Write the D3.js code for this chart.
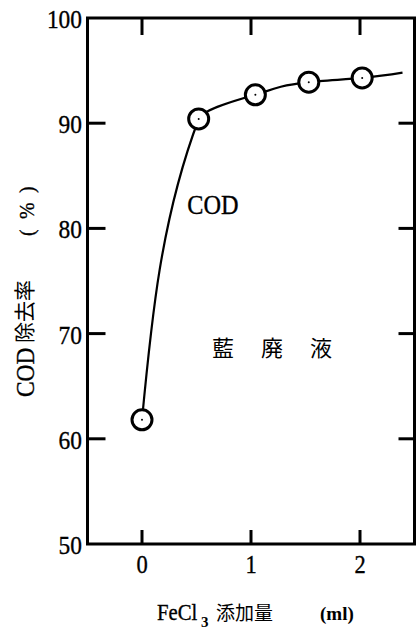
<!DOCTYPE html>
<html>
<head>
<meta charset="utf-8">
<script src="https://cdn.jsdelivr.net/npm/d3@7"></script>
<style>
  html, body { margin: 0; padding: 0; background: #fff; }
  svg { display: block; }
</style>
</head>
<body>
<svg id="chart" width="416" height="629"></svg>
<script>
// FeCl3 dose (ml) and COD removal (%) for the indigo waste liquor
const feCl3Dose = [0, 0.52, 1.04, 1.53, 2.02];
const codRemoval = [61.8, 90.4, 92.7, 93.9, 94.3];
// the fitted curve runs on past the last measurement
const curveTailDose = [2.39];
const curveTailRemoval = [94.8];

const xTicks = [0, 1, 2];
const yTicks = [50, 60, 70, 80, 90, 100];
const yInnerTicks = [60, 70, 80, 90];

const SERIF = "'Liberation Serif', 'DejaVu Serif', serif";
const CJK = "'Noto Sans CJK JP', 'Noto Sans CJK SC', sans-serif";

const svg = d3.select("#chart");

const x = d3.scaleLinear().domain([-0.5, 2.5]).range([87.5, 414.5]);
const y = d3.scaleLinear().domain([50, 100]).range([544, 18]);

const L = x(-0.5), R = x(2.5), T = y(100), B = y(50);

// plot frame
svg.append("path")
  .attr("d", `M${R + 2},${T} H${L} V${B} H${R} V${T}`)
  .attr("fill", "none").attr("stroke", "#000").attr("stroke-width", 3);

// inward ticks on all four sides
const tickG = svg.append("g").attr("stroke", "#000").attr("stroke-width", 3);
xTicks.forEach(v => {
  tickG.append("line").attr("x1", x(v)).attr("x2", x(v)).attr("y1", T).attr("y2", T + 17);
  tickG.append("line").attr("x1", x(v)).attr("x2", x(v)).attr("y1", B).attr("y2", B - 14);
});
yInnerTicks.forEach(v => {
  tickG.append("line").attr("x1", L).attr("x2", L + 18).attr("y1", y(v)).attr("y2", y(v));
  tickG.append("line").attr("x1", R).attr("x2", R - 16).attr("y1", y(v)).attr("y2", y(v));
});

// serif text, slightly narrowed and weighted like letterpress type
function serifText(parent, tx, ty, size, str, anchor) {
  return parent.append("text")
    .attr("transform", `translate(${tx},${ty}) scale(0.9,1)`)
    .attr("font-family", SERIF).attr("font-size", size)
    .attr("text-anchor", anchor || "start")
    .attr("stroke", "#000").attr("stroke-width", 0.35)
    .text(str);
}

// tick labels
yTicks.forEach(v => serifText(svg, 82, y(v) + 10, 26, v, "end"));
xTicks.forEach(v => serifText(svg, x(v), 573, 25, v, "middle"));

// fitted curve through the measured points
const curvePts = feCl3Dose.map((d, i) => [x(d), y(codRemoval[i])])
  .concat(curveTailDose.map((d, i) => [x(d), y(curveTailRemoval[i])]));
svg.append("path")
  .attr("d", d3.line().curve(d3.curveMonotoneY)(curvePts))
  .attr("fill", "none").attr("stroke", "#000").attr("stroke-width", 2.2);

// measured points: open circles with a centre dot
const pts = svg.append("g").selectAll("g").data(feCl3Dose).join("g")
  .attr("transform", (d, i) => `translate(${x(d)},${y(codRemoval[i])})`);
pts.append("circle").attr("r", 10)
  .attr("fill", "#fff").attr("stroke", "#000").attr("stroke-width", 3);
pts.append("circle").attr("r", 1).attr("fill", "#000");

// series label
serifText(svg, 213, 214, 27, "COD", "middle");

// sample label
[["藍", 223], ["廃", 272], ["液", 321]].forEach(([c, cx]) => {
  svg.append("text").attr("font-family", CJK)
    .attr("x", cx).attr("y", 356)
    .attr("text-anchor", "middle").attr("font-size", 22)
    .text(c);
});

// y-axis title (rotated)
const yt = svg.append("g").attr("transform", "translate(34,397) rotate(-90)");
serifText(yt, 0, 0, 26, "COD");
yt.append("text").attr("font-family", CJK).attr("x", 54).attr("y", -2)
  .attr("font-size", 21).text("除去率");
serifText(yt, 161, 0, 22, "(");
serifText(yt, 178, 0, 22, "%");
serifText(yt, 204, 0, 22, ")");

// x-axis title
serifText(svg, 157, 620, 23, "FeCl");
svg.append("text").attr("font-family", SERIF).attr("x", 201).attr("y", 627)
  .attr("font-size", 15).attr("font-weight", "bold").text("3");
svg.append("text").attr("font-family", CJK).attr("x", 216).attr("y", 620)
  .attr("font-size", 19).text("添加量");
svg.append("text").attr("font-family", SERIF).attr("x", 320).attr("y", 620)
  .attr("font-size", 19).attr("font-weight", "bold").text("(ml)");
</script>
</body>
</html>
